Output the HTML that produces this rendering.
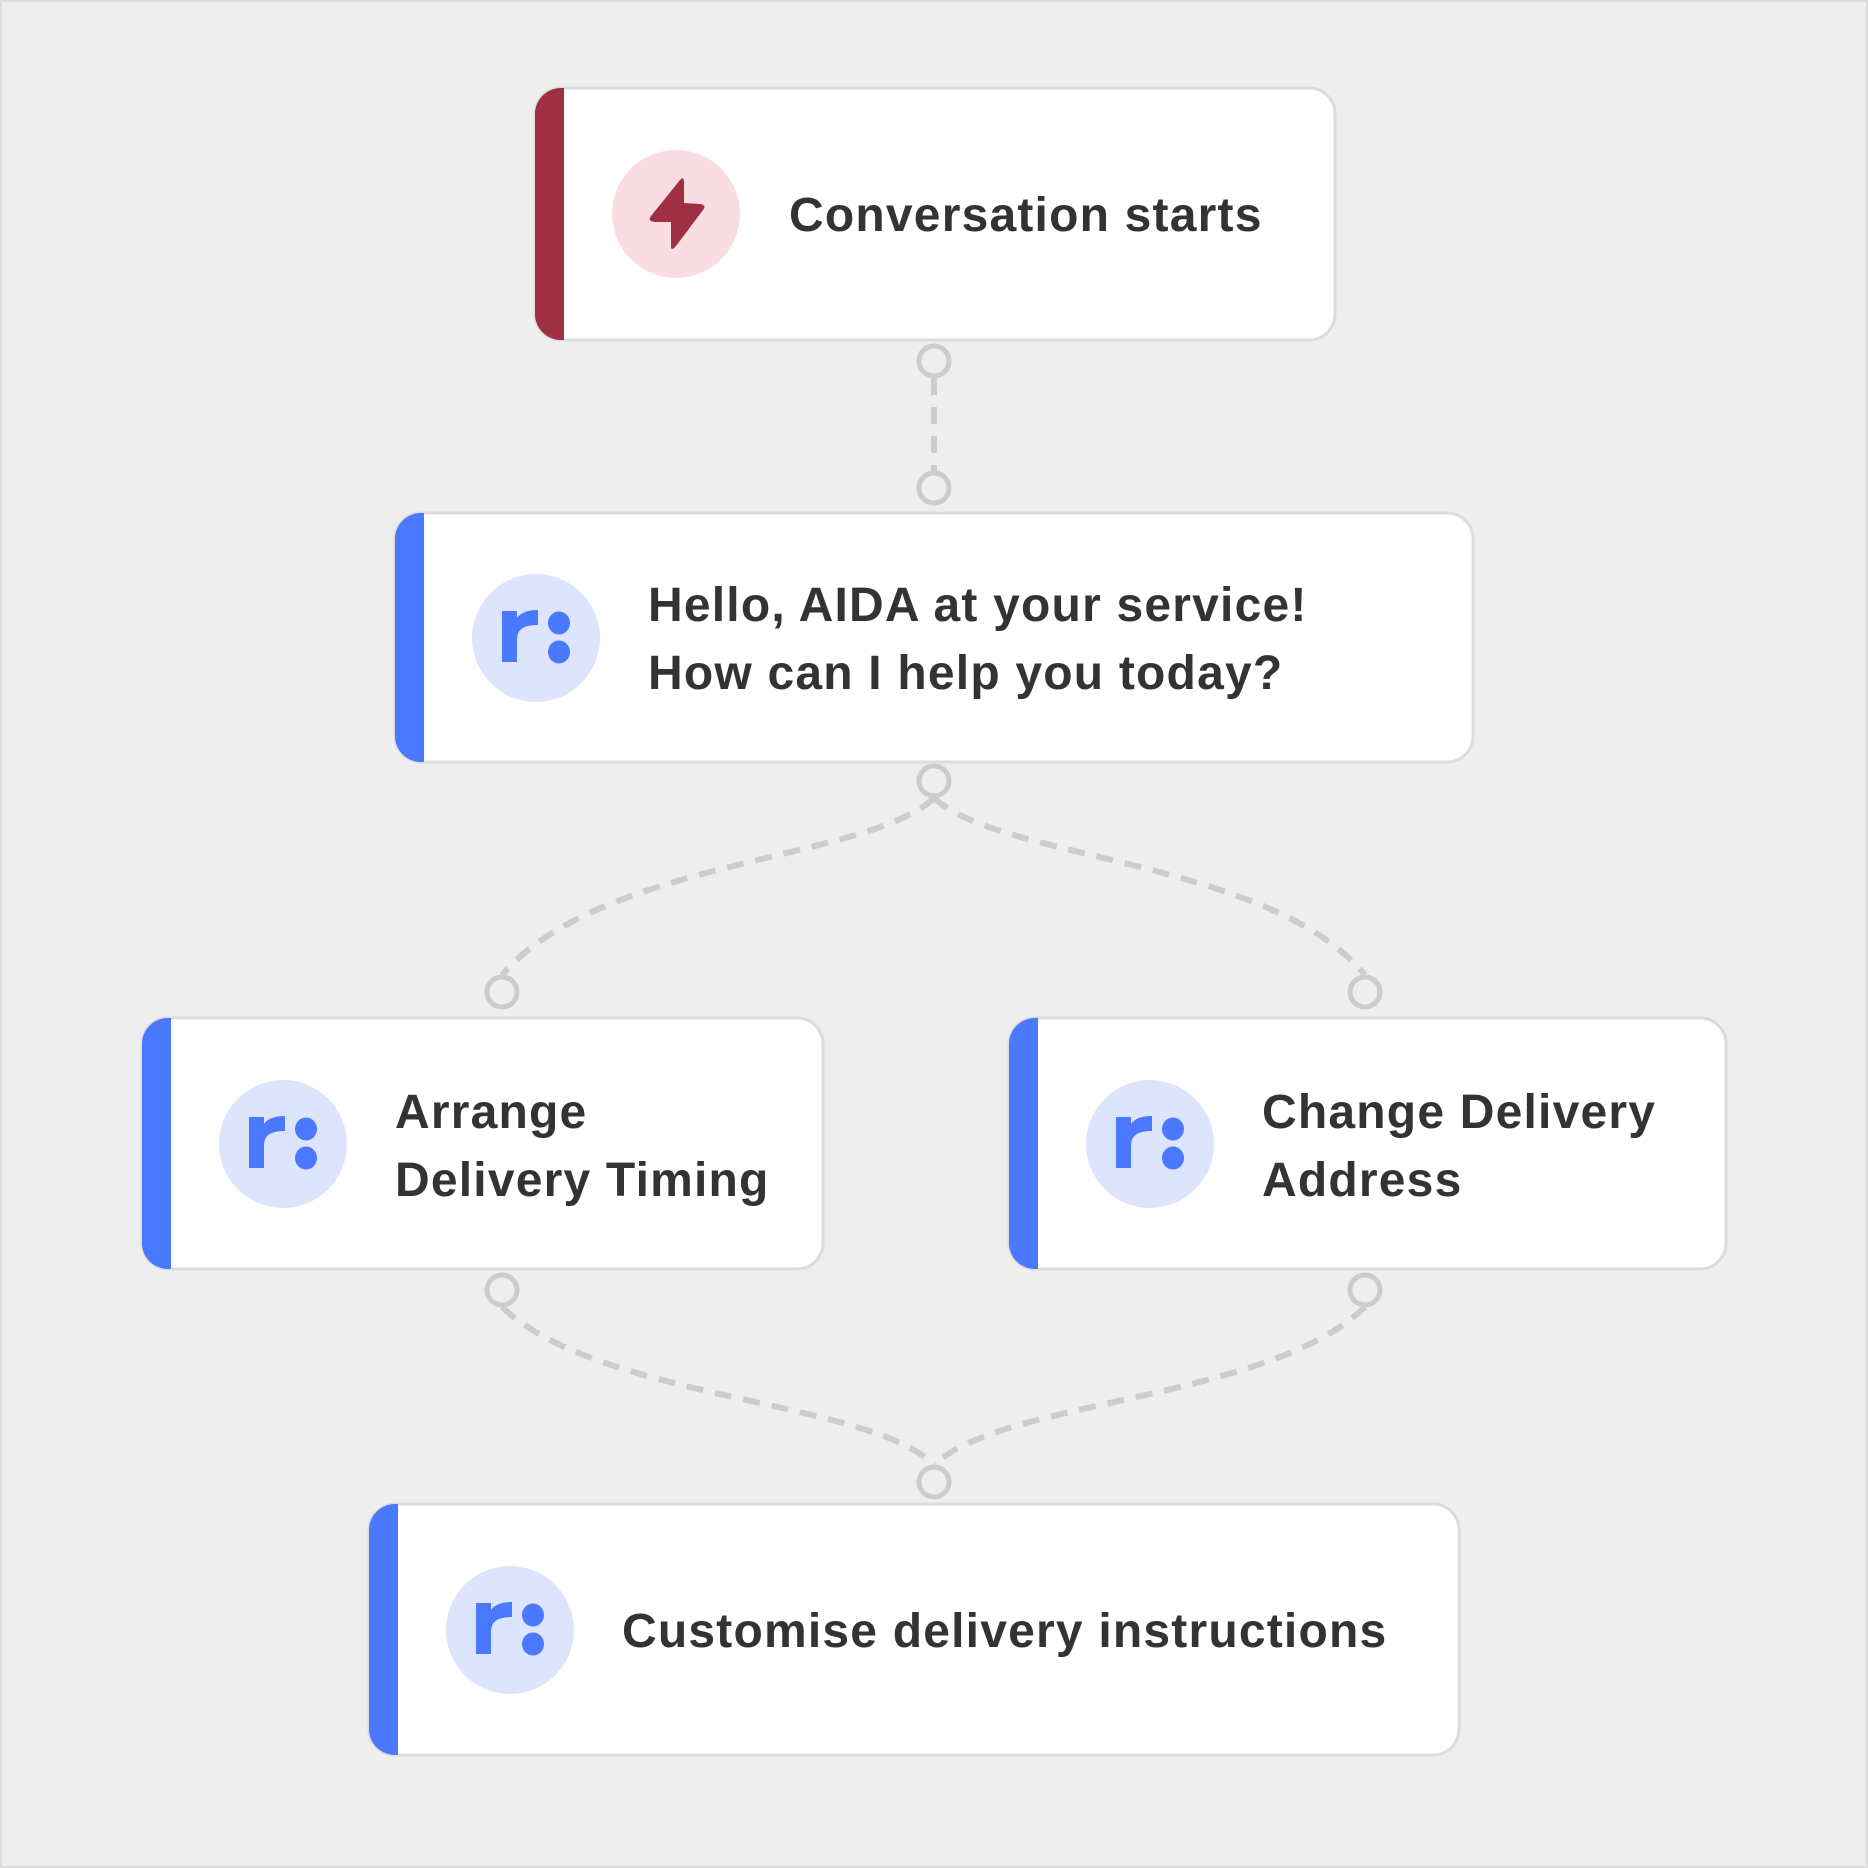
<!DOCTYPE html>
<html><head><meta charset="utf-8"><style>
html,body{margin:0;padding:0;background:#eeeeee;}
svg{display:block;}
text{font-family:"Liberation Sans",sans-serif;font-weight:700;fill:#333;font-size:48px;letter-spacing:1.2px;}
</style></head><body>
<svg width="1868" height="1868" viewBox="0 0 1868 1868" xmlns="http://www.w3.org/2000/svg">
<defs>
<g id="logo">
<circle r="64" fill="#dde5fd"/>
<path d="M-34,-27 L-19,-27 L-19,-20 C-15,-26 -7,-28 2,-28 L2,-13 C-12,-13 -19,-9 -19,2 L-19,24 L-34,24 Z" fill="#4a78fe"/>
<ellipse cx="23" cy="-15" rx="11" ry="11.5" fill="#4a78fe"/>
<ellipse cx="23" cy="14" rx="11" ry="11.5" fill="#4a78fe"/>
</g>
<clipPath id="c1"><rect x="535" y="88" width="800" height="252" rx="26"/></clipPath>
<clipPath id="c2"><rect x="395" y="513" width="1078" height="249" rx="26"/></clipPath>
<clipPath id="c3"><rect x="142" y="1018" width="681" height="251" rx="26"/></clipPath>
<clipPath id="c4"><rect x="1009" y="1018" width="717" height="251" rx="26"/></clipPath>
<clipPath id="c5"><rect x="369" y="1504" width="1090" height="251" rx="26"/></clipPath>
</defs>
<rect x="1" y="1" width="1866" height="1866" fill="#eeeeee" stroke="#dcdcdc" stroke-width="2"/>

<g fill="none" stroke="#cccccc" stroke-width="6" stroke-dasharray="17 12">
<line x1="934" y1="378" x2="934" y2="471"/>
<path d="M934,798 C870,860 600,860 502,975"/>
<path d="M934,798 C1000,860 1270,860 1365,975"/>
<path d="M502,1307 C600,1400 870,1400 934,1465"/>
<path d="M1365,1307 C1270,1400 1000,1400 934,1465"/>
</g>
<g fill="#eeeeee" stroke="#cccccc" stroke-width="5">
<circle cx="934" cy="361" r="15"/><circle cx="934" cy="488" r="15"/>
<circle cx="934" cy="781" r="15"/><circle cx="502" cy="992" r="15"/>
<circle cx="1365" cy="992" r="15"/><circle cx="502" cy="1290" r="15"/>
<circle cx="1365" cy="1290" r="15"/><circle cx="934" cy="1482" r="15"/>
</g>

<rect x="535" y="88" width="800" height="252" rx="26" fill="#fff" stroke="#dcdcdc" stroke-width="3"/>
<rect x="535" y="88" width="29" height="252" fill="#9e3041" clip-path="url(#c1)"/>
<circle cx="676" cy="214" r="64" fill="#fadde2"/>
<path d="M680,180 Q684,176 684,182 L684,203 L700,204 Q707,205 703,210 L676,246 Q671,252 671,246 L671,222 L655,222 Q647,221 651,216 Z" fill="#9e3041"/>
<text x="789" y="231">Conversation starts</text>

<rect x="395" y="513" width="1078" height="249" rx="26" fill="#fff" stroke="#dcdcdc" stroke-width="3"/>
<rect x="395" y="513" width="29" height="249" fill="#4a78fe" clip-path="url(#c2)"/>
<use href="#logo" x="536" y="638"/>
<text x="648" y="621">Hello, AIDA at your service!</text>
<text x="648" y="689">How can I help you today?</text>

<rect x="142" y="1018" width="681" height="251" rx="26" fill="#fff" stroke="#dcdcdc" stroke-width="3"/>
<rect x="142" y="1018" width="29" height="251" fill="#4a78fe" clip-path="url(#c3)"/>
<use href="#logo" x="283" y="1144"/>
<text x="395" y="1128">Arrange</text>
<text x="395" y="1196">Delivery Timing</text>

<rect x="1009" y="1018" width="717" height="251" rx="26" fill="#fff" stroke="#dcdcdc" stroke-width="3"/>
<rect x="1009" y="1018" width="29" height="251" fill="#4a78fe" clip-path="url(#c4)"/>
<use href="#logo" x="1150" y="1144"/>
<text x="1262" y="1128">Change Delivery</text>
<text x="1262" y="1196">Address</text>

<rect x="369" y="1504" width="1090" height="251" rx="26" fill="#fff" stroke="#dcdcdc" stroke-width="3"/>
<rect x="369" y="1504" width="29" height="251" fill="#4a78fe" clip-path="url(#c5)"/>
<use href="#logo" x="510" y="1630"/>
<text x="622" y="1647">Customise delivery instructions</text>
</svg>
</body></html>
